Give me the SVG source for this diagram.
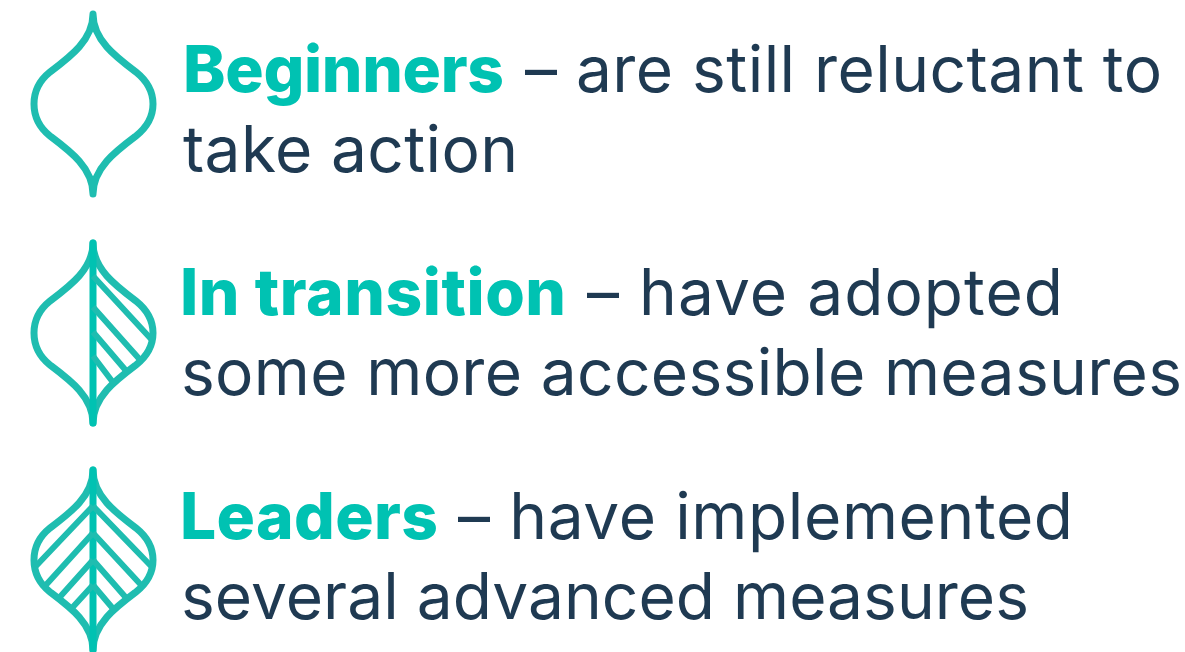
<svg xmlns="http://www.w3.org/2000/svg" width="1185" height="652" viewBox="0 0 1185 652">
<style>
text{font-family:"Inter","Liberation Sans",sans-serif;font-size:64px;fill:#1f3a52}
.b{font-weight:800;fill:#00c2b2}
.o{fill:none;stroke:#1fbdb0;stroke-width:7;stroke-linecap:round;stroke-linejoin:round}
.v{fill:none;stroke:#00c2b2;stroke-width:7;stroke-linecap:round}
.h{fill:none;stroke:#1fbdb0;stroke-width:6}
</style>
<defs>
<path id="leaf" d="M93 0C93 26 70 43 50 58C40 66 34 77 34 90C34 103 40 114 50 122C70 137 93 154 93 180C93 154 116 137 136 122C146 114 153 103 153 90C153 77 146 66 136 58C116 43 93 26 93 0Z"/>
</defs>
<rect width="1185" height="652" fill="#fff"/>
<g id="beginners">
<use href="#leaf" class="o" y="14"/>
<text class="b" x="183" y="92" textLength="321" lengthAdjust="spacing">Beginners</text>
<text x="525" y="92" textLength="637" lengthAdjust="spacing">– are still reluctant to</text>
<text x="183" y="172" textLength="335" lengthAdjust="spacing">take action</text>
</g>
<g id="in-transition">
<use href="#leaf" class="o" y="243"/>
<path class="v" d="M93 243V423"/>
<path class="h" d="M93 276L152 340M93 307L142 362M93 332L128 373M93 356L115 385"/>
<text class="b" x="180" y="315" textLength="386" lengthAdjust="spacing">In transition</text>
<text x="587" y="315" textLength="476" lengthAdjust="spacing">– have adopted</text>
<text x="181" y="395" textLength="1001" lengthAdjust="spacing">some more accessible measures</text>
</g>
<g id="leaders">
<use href="#leaf" class="o" y="470"/>
<path class="v" d="M93 470V650"/>
<path class="h" d="M93 506L151 566M93 533L142 586M93 560L128 600M93 585L115 611M93 506L36 566M93 533L45 586M93 560L59 598M93 585L72 608"/>
<text class="b" x="180" y="539" textLength="258" lengthAdjust="spacing">Leaders</text>
<text x="458" y="539" textLength="615" lengthAdjust="spacing">– have implemented</text>
<text x="181" y="619" textLength="848" lengthAdjust="spacing">several advanced measures</text>
</g>
</svg>
